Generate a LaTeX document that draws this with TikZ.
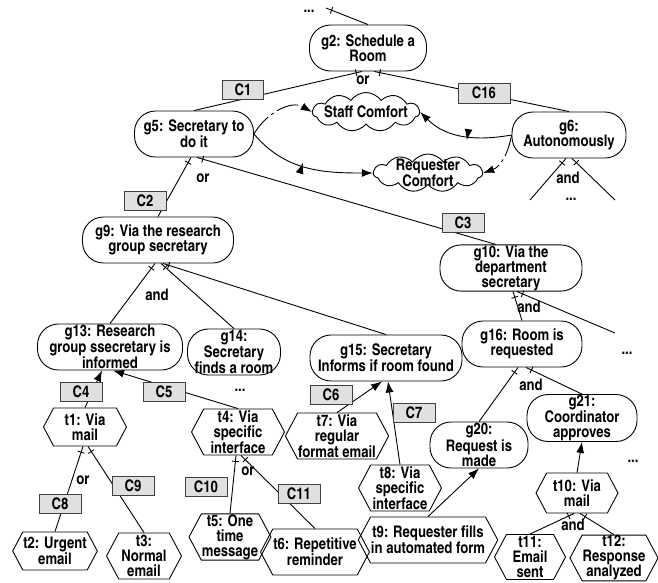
\documentclass[tikz,border=0pt]{standalone}
\usepackage{fontspec}
\newfontfamily\diagfont{texgyreheroscn-bold}[Extension=.otf]
\usetikzlibrary{arrows.meta,shapes.symbols,decorations.markings}

\begin{document}
\begin{tikzpicture}[x=1pt,y=1pt,line width=0.9pt,
  font=\diagfont\fontsize{16}{15}\selectfont,
  goal/.style={draw,rounded corners=21pt,minimum height=46pt,align=center,inner sep=0.5pt},
  task/.style={draw,signal,signal to=east and west,signal pointer angle=124,
               minimum height=46pt,align=center,inner sep=0.5pt},
  soft/.style={draw,cloud,cloud puffs=11,cloud puff arc=110,cloud ignores aspect,
               align=center,inner sep=-5pt},
  ctx/.style={draw=black!75,fill=black!12,minimum width=42pt,minimum height=19pt,inner sep=1pt},
  moredots/.style={inner sep=0.5pt},
  tickat/.style={postaction={decorate,decoration={markings,
      mark=at position #1 with {\draw[solid] (0,-3.5pt) -- (0,3.5pt);}}}},
  dec/.style={tickat=6pt},
  meansend/.style={-{Latex[length=11pt,width=8pt]}},
  contrib/.style={meansend,tickat=0.45},
  contribdash/.style={meansend,dash pattern=on 22pt off 4pt on 3pt off 4pt}
]
\useasboundingbox (0,0) rectangle (658,-582);
% Goals
\node[goal,minimum width=117pt] (g2) at (368,-48) {g2: Schedule a\\Room};
\node[goal,minimum width=119pt] (g5) at (194,-134) {g5: Secretary to\\do it};
\node[goal,minimum width=114pt] (g6) at (569,-135) {g6:\\Autonomously};
\node[goal,minimum width=151pt] (g9) at (158,-240) {g9: Via the research\\group secretary};
\node[goal,minimum width=142pt] (g10) at (511,-268) {g10: Via the\\department\\secretary};
\node[goal,minimum width=145pt] (g13) at (110,-347) {g13: Research\\group ssecretary is\\informed};
\node[goal,minimum width=93pt] (g14) at (234,-352) {g14:\\Secretary\\finds a room};
\node[goal,minimum width=152pt] (g15) at (386,-358) {g15: Secretary\\Informs if room found};
\node[goal,minimum width=120pt] (g16) at (522,-344) {g16: Room is\\requested};
\node[goal,minimum width=98pt] (g20) at (479,-445) {g20:\\Request is\\made};
\node[goal,minimum width=110pt] (g21) at (582,-418) {g21:\\Coordinator\\approves};
% Softgoals
\node[soft,minimum width=107pt,minimum height=39pt] (staff) at (366,-112) {Staff Comfort};
\node[soft,minimum width=109pt,minimum height=38pt] (reqc) at (428,-173) {Requester\\Comfort};
% Tasks
\node[task,minimum width=83pt,minimum height=38pt] (t1) at (85,-427) {t1: Via\\mail};
\node[task,minimum width=80pt,minimum height=38pt] (t2) at (55,-551) {t2: Urgent\\email};
\node[task,minimum width=75pt] (t3) at (144,-556) {t3:\\Normal\\email};
\node[task,minimum width=93pt] (t4) at (238,-432) {t4: Via\\specific\\interface};
\node[task,minimum width=75pt] (t5) at (230,-537) {t5: One\\time\\message};
\node[task,minimum width=97pt] (t6) at (315,-552) {t6: Repetitive\\reminder};
\node[task,minimum width=97pt] (t7) at (337,-436) {t7: Via\\regular\\format email};
\node[task,minimum width=83pt] (t8) at (400,-488) {t8: Via\\specific\\interface};
\node[task,minimum width=125pt] (t9) at (428,-540) {t9: Requester fills\\in automated form};
\node[task,minimum width=82pt,minimum height=40pt] (t10) at (577,-493) {t10: Via\\mail};
\node[task,minimum width=71pt,minimum height=45pt] (t11) at (530,-557) {t11:\\Email\\sent};
\node[task,minimum width=86pt,minimum height=45pt] (t12) at (614,-558) {t12:\\Response\\analyzed};
% Open ends
\node[moredots] (topdots) at (309,-11) {...};
\coordinate (gtop) at (326,-8);
\node[moredots] (g6dots) at (571,-199) {...};
\coordinate (g6l) at (530,-200);
\coordinate (g6r) at (615,-200);
\node[moredots] (g10dots) at (627,-353) {...};
\coordinate (g10r) at (615,-333);
\node[moredots] (g14dots) at (240,-390) {...};
\node[moredots] (g21dots) at (633,-461) {...};
% Refinements
\draw[dec] (gtop) -- (g2.north);
\draw[dec] ([xshift=-6pt]g2.south) -- (g5.north);
\draw[dec] ([xshift=6pt]g2.south) -- (g6.north);
\draw[dec] ([xshift=-3pt]g6.south) -- (g6l);
\draw[dec] ([xshift=3pt]g6.south) -- (g6r);
\draw[dec] ([xshift=-3pt]g5.south) -- (g9.north);
\draw[dec] ([xshift=3pt]g5.south) -- ([xshift=-15pt]g10.north);
\draw[dec] ([xshift=-3pt]g9.south) -- (g13.north);
\draw[dec] ([xshift=3pt]g9.south) -- (g14.north);
\draw[dec] ([xshift=5pt]g9.south) -- (g15.north);
\draw[dec] ([xshift=2pt]g10.south) -- (g16.north);
\draw[dec] ([xshift=6pt]g10.south) -- (g10r);
\draw[dec] ([xshift=-4pt]g16.south) -- (g20.north);
\draw[dec] ([xshift=4pt]g16.south) -- (g21.north);
\draw[dec] ([xshift=-2pt]t1.south) -- (t2.north);
\draw[dec] ([xshift=3pt]t1.south) -- (t3.north);
\draw[dec] ([xshift=-2pt]t4.south) -- (t5.north);
\draw[dec] ([xshift=3pt]t4.south) -- (t6.north);
\draw[dec] ([xshift=-3pt]t10.south) -- (t11.north);
\draw[dec] ([xshift=3pt]t10.south) -- (t12.north);
% Means-end links
\draw[meansend] (t1.north) -- ([xshift=-8pt]g13.south);
\draw[meansend] (t4.north) -- ([xshift=3pt]g13.south);
\draw[meansend] (t7.north) -- ([xshift=-4pt]g15.south);
\draw[meansend] (t8.north) -- ([xshift=2pt]g15.south);
\draw[meansend] (t9.north) -- (g20.south);
\draw[meansend] (t10.north) -- (g21.south);
% Contributions
\draw[contribdash] (g5.east) to[out=60,in=150] (staff.west);
\draw[contrib] (g5.east) to[out=-50,in=180] (reqc.west);
\draw[contrib] (g6.west) to[out=190,in=-45] (staff.east);
\draw[contribdash] (g6.west) to[out=-100,in=20] (reqc.east);
% Contexts
\node[ctx,minimum width=41pt] (c1) at (243,-90) {C1};
\node[ctx,minimum width=52pt,minimum height=20pt] (c16) at (484,-93) {C16};
\node[ctx] (c2) at (145,-201) {C2};
\node[ctx] (c3) at (463,-223) {C3};
\node[ctx] (c4) at (81,-392) {C4};
\node[ctx] (c5) at (164,-392) {C5};
\node[ctx] (c6) at (331,-395) {C6};
\node[ctx] (c7) at (414,-413) {C7};
\node[ctx] (c8) at (60,-504) {C8};
\node[ctx] (c9) at (133,-486) {C9};
\node[ctx] (c10) at (206,-487) {C10};
\node[ctx] (c11) at (299,-494) {C11};
% Refinement types
\node (or2) at (363,-80) {or};
\node (or5) at (203,-178) {or};
\node (and6) at (568,-178) {and};
\node (and9) at (157,-295) {and};
\node (and10) at (529,-307) {and};
\node (and16) at (531,-385) {and};
\node (ort1) at (83,-480) {or};
\node (ort4) at (248,-471) {or};
\node (andt10) at (573,-525) {and};
\end{tikzpicture}
\end{document}
